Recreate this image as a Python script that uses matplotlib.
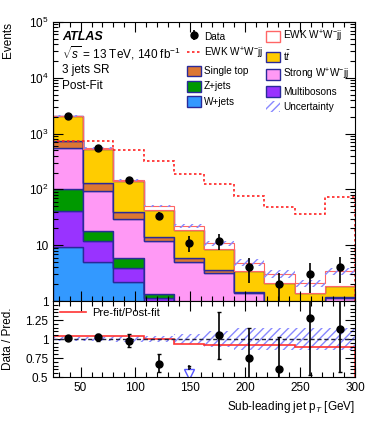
import numpy as np
import matplotlib
matplotlib.use('Agg')
import matplotlib.pyplot as plt
from matplotlib.patches import Patch
from matplotlib.lines import Line2D
from matplotlib.ticker import FixedLocator, MultipleLocator, LogLocator, FuncFormatter, NullFormatter

plt.rcParams['font.family'] = ['Liberation Sans', 'DejaVu Sans']
plt.rcParams['mathtext.fontset'] = 'custom'
plt.rcParams['mathtext.rm'] = 'Liberation Sans'
plt.rcParams['mathtext.it'] = 'Liberation Sans:italic'
plt.rcParams['hatch.linewidth'] = 1.0

# --- data ---
edges = [25, 52.5, 80, 107.5, 135, 162.5, 190, 217.5, 245, 272.5, 300]
wjets = [9.2, 5.0, 2.16, 0.5, 0.3, 0.2, 0.1, 0.05, 0.05, 0.05]
multibosons = [32.2, 7.0, 1.81, 0.62, 0.2, 0.1, 0.05, 0.05, 0.05, 0.05]
zjets = [61.6, 5.8, 1.83, 0.24, 0.1, 0.05, 0.05, 0.05, 0.02, 0.05]
strong_ww = [439, 74, 24.2, 10.3, 4.4, 2.8, 1.2, 0.65, 0.48, 0.97]
single_top = [199, 39, 9.7, 2.4, 0.8, 0.49, 0.08, 0.05, 0.05, 0.06]
ttbar = [1299, 405, 101, 28.6, 12.6, 4.85, 2.04, 1.26, 0.77, 0.7]
ewk_ww = [40, 14, 7, 7.2, 3.6, 2.4, 1.36, 0.97, 0.65, 1.52]
ewk_dotted = [741, 741, 507, 319, 187, 124, 76, 47.8, 36, 71.7]

data = [2100, 553, 146, 34, 11, 12, 4, 2, 3, 4]
data_lo = [45, 23, 12, 5.2, 3.4, 3.7, 1.9, 1.4, 1.6, 1.9]
data_hi = [45, 23, 12, 5.8, 3.6, 3.6, 1.9, 1.2, 1.8, 2.1]

unc_rel = [0.03, 0.03, 0.045, 0.035, 0.07, 0.1, 0.14, 0.15, 0.14, 0.14]
ratio = [1.01, 1.02, 0.98, 0.67, np.nan, 1.05, 0.75, 0.6, 1.28, 1.13]
ratio_lo = [0.02, 0.04, 0.08, 0.11, 0, 0.31, 0.4, 0.5, 0.75, 0.57]
ratio_hi = [0.02, 0.04, 0.08, 0.13, 0, 0.31, 0.39, 0.43, 0.75, 0.6]
prefit_postfit = [1.045, 1.045, 1.04, 1.0, 0.94, 0.92, 0.925, 0.925, 0.895, 0.9]
arrow_bin = 4
arrow_err_top = 0.64

edges = np.array(edges)
centers = 0.5 * (edges[:-1] + edges[1:])

components = [
    ('W+jets', wjets, '#3399ff'),
    ('Multibosons', multibosons, '#9933ff'),
    ('Z+jets', zjets, '#009900'),
    ('Strong W$^{+}$W$^{-}$jj', strong_ww, '#ff99f5'),
    ('Single top', single_top, '#dd7733'),
    ('t$\\bar{t}$', ttbar, '#ffcc00'),
]
edge_col = '#2a2a99'

fig = plt.figure(figsize=(3.74, 4.21), dpi=100)
ax = fig.add_axes([0.142, 0.285, 0.807, 0.663])
rax = fig.add_axes([0.142, 0.1045, 0.807, 0.1805])

handles = {}
bottom = np.zeros(len(centers))
for name, vals, col in components:
    top = bottom + np.array(vals)
    ax.stairs(top, edges, baseline=bottom.copy(), fill=True, facecolor=col,
              edgecolor=edge_col, linewidth=1.0)
    handles[name] = Patch(facecolor=col, edgecolor=edge_col, linewidth=1.0)
    bottom = top

total = bottom + np.array(ewk_ww)
ax.stairs(total, edges, baseline=bottom.copy(), fill=True, facecolor='white',
          edgecolor='#ff6666', linewidth=0.8)
handles['EWK box'] = Patch(facecolor='white', edgecolor='#ff6666', linewidth=1.0)

unc = total * np.array(unc_rel)
ax.stairs(total + unc, edges, baseline=total - unc, fill=True, facecolor='none',
          hatch='////', edgecolor='#8888ff', linewidth=0)
handles['Uncertainty'] = Patch(facecolor='none', hatch='////', edgecolor='#8888ff', linewidth=0)

ax.stairs(ewk_dotted, edges, color='#ff2222', linestyle=(0, (1.5, 1.5)), linewidth=1.2)
handles['EWK dotted'] = Line2D([], [], color='#ff2222', linestyle=(0, (1.5, 1.5)), linewidth=1.2)

deb = ax.errorbar(centers, data, yerr=[data_lo, data_hi], fmt='o', color='black',
                  markersize=5, elinewidth=1.2, capsize=0)
handles['Data'] = deb

ax.set_yscale('log')
ax.set_xlim(25, 300)
ax.set_ylim(1, 1e5)

def log_fmt(v, pos):
    if v == 1:
        return '1'
    if v == 10:
        return '10'
    return '$10^{%d}$' % int(round(np.log10(v)))

ax.yaxis.set_major_locator(LogLocator(base=10, numticks=10))
ax.yaxis.set_minor_locator(LogLocator(base=10, subs=np.arange(2, 10), numticks=20))
ax.yaxis.set_major_formatter(FuncFormatter(log_fmt))
ax.yaxis.set_minor_formatter(NullFormatter())
ax.xaxis.set_major_locator(MultipleLocator(50))
ax.xaxis.set_minor_locator(MultipleLocator(10))
ax.tick_params(labelbottom=False)

for a in (ax, rax):
    a.tick_params(which='both', direction='in', top=True, right=True, labelsize=8.5)
    a.tick_params(which='major', length=7, width=0.8)
    a.tick_params(which='minor', length=3.5, width=0.8)
    for s in a.spines.values():
        s.set_linewidth(0.8)

ax.set_ylabel('Events', loc='top', fontsize=8.5)
ax.yaxis.set_label_coords(-0.13, 1.0)

order = ['Data', 'EWK dotted', 'Single top', 'Z+jets', 'W+jets',
         'EWK box', 't$\\bar{t}$', 'Strong W$^{+}$W$^{-}$jj', 'Multibosons', 'Uncertainty']
labels = ['Data', 'EWK W$^{+}$W$^{-}$jj', 'Single top', 'Z+jets', 'W+jets',
          'EWK W$^{+}$W$^{-}$jj', 't$\\bar{t}$', 'Strong W$^{+}$W$^{-}$jj', 'Multibosons', 'Uncertainty']
ax.legend([handles[k] for k in order], labels, ncol=2, loc='upper left',
          bbox_to_anchor=(0.42, 1.0), frameon=False, fontsize=7.2,
          handlelength=1.4, handleheight=1.3, labelspacing=0.42,
          columnspacing=0.3, handletextpad=0.3, borderpad=0.2)

ax.text(0.03, 0.946, 'ATLAS', transform=ax.transAxes, fontsize=9,
        fontweight='bold', style='italic', va='center')
ax.text(0.03, 0.889, '$\\sqrt{s}$ = 13 TeV, 140 fb$^{-1}$', transform=ax.transAxes,
        fontsize=8.5, va='center')
ax.text(0.03, 0.828, '3 jets SR', transform=ax.transAxes, fontsize=8.5, va='center')
ax.text(0.03, 0.770, 'Post-Fit', transform=ax.transAxes, fontsize=8.5, va='center')

# --- ratio panel ---
rax.stairs(1 + np.array(unc_rel), edges, baseline=1 - np.array(unc_rel), fill=True,
           facecolor='none', hatch='////', edgecolor='#8888ff', linewidth=0)
rax.axhline(1, color='#222244', linestyle='--', linewidth=1.0, dashes=(3, 2))
pf = rax.stairs(prefit_postfit, edges, color='#ff3333', linewidth=1.2,
                label='Pre-fit/Post-fit')
rax.errorbar(centers, ratio, yerr=[ratio_lo, ratio_hi], fmt='o', color='black',
             markersize=5, elinewidth=1.2, capsize=1.5)
rax.plot([centers[arrow_bin]], [0.545], marker='v', markersize=7, markerfacecolor='white',
         markeredgecolor='#5555ff', markeredgewidth=1.0, linestyle='none')
rax.plot([centers[arrow_bin]] * 2, [0.6, arrow_err_top], color='black', linewidth=1.2)
rax.plot([centers[arrow_bin] - 1, centers[arrow_bin] + 1], [arrow_err_top] * 2,
         color='black', linewidth=1.0)

rax.set_xlim(25, 300)
rax.set_ylim(0.5, 1.5)
rax.yaxis.set_major_locator(FixedLocator([0.5, 0.75, 1.0, 1.25]))
rax.yaxis.set_major_formatter(FuncFormatter(lambda v, p: {0.5: '0.5', 0.75: '0.75', 1.0: '1', 1.25: '1.25'}.get(round(v, 2), '')))
rax.yaxis.set_minor_locator(MultipleLocator(0.05))
rax.xaxis.set_major_locator(MultipleLocator(50))
rax.xaxis.set_minor_locator(MultipleLocator(10))
rax.set_ylabel('Data / Pred.', fontsize=8.5)
rax.yaxis.set_label_coords(-0.13, 0.5)
rax.set_xlabel('Sub-leading jet p$_{T}$ [GeV]', loc='right', fontsize=8.5)
rax.legend(handles=[Line2D([], [], color='#ff3333', linewidth=1.2)], labels=['Pre-fit/Post-fit'],
           loc='upper left', frameon=False, fontsize=8, handlelength=2.3,
           borderpad=0.15, handletextpad=0.6)

fig.savefig('out.png', dpi=100)
